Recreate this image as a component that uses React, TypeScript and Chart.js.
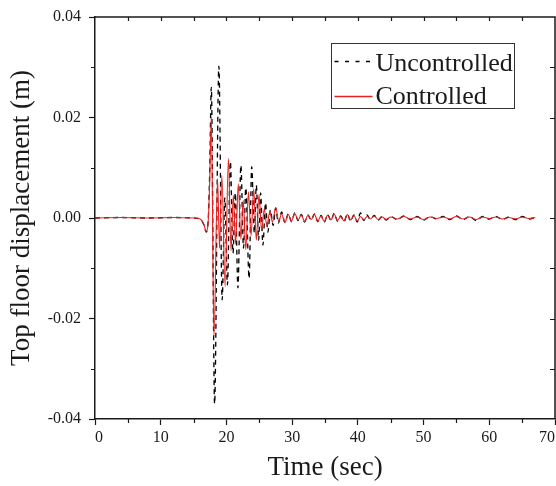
import React, { useEffect, useRef } from 'react';
import { Chart, registerables } from 'chart.js';

Chart.register(...registerables);

// ---------------- data ----------------
const seriesNames = ['Uncontrolled', 'Controlled'];

const uncontrolledTime = [
  0, 4, 8, 12, 15, 16, 16.6, 16.9, 17.2, 17.45, 17.7, 18.2, 18.85, 19.35, 19.75,
  20.15, 20.6, 21.0, 21.35, 21.75, 22.2, 22.6, 22.95, 23.45, 23.85, 24.25, 24.55,
  24.9, 25.2, 25.55, 25.95, 26.3, 26.7, 27.1, 27.5, 27.9, 28.4, 28.9, 29.4, 29.9,
  30.4, 30.9, 31.4, 31.9, 32.4, 32.9, 33.4, 33.9, 34.4, 34.9, 35.4, 35.9, 36.4,
  36.9, 37.4, 37.9, 38.4, 38.9, 39.4, 39.9, 40.4, 40.9, 41.4, 41.9, 42.5, 43.1,
  43.7, 44.3, 45, 46, 47, 48, 49, 50, 51, 52, 53, 54, 55, 56, 57, 58, 59, 60, 61,
  62, 63, 64, 65, 66, 67,
];
const uncontrolledDisp = [
  0, 0.0001, 0, 0.0001, 0, -0.0002, -0.0015, -0.0028, -0.001, 0.009, 0.026, -0.037,
  0.0302, -0.0163, 0.004, -0.0133, 0.0112, -0.007, 0.005, -0.0139, 0.0105, -0.006,
  0.006, -0.012, 0.0102, -0.003, 0.0065, -0.0044, 0.005, -0.0054, 0.003, -0.0028,
  0.0016, -0.0015, 0.002, -0.001, 0.0012, -0.0009, 0.0008, -0.0007, 0.001, -0.0005,
  0.0007, -0.0008, 0.0006, -0.0004, 0.0008, -0.0007, 0.0005, -0.0008, 0.0007,
  -0.0005, 0.0009, -0.0006, 0.0004, -0.0007, 0.0008, -0.0006, 0.0006, -0.0008,
  0.001, -0.0005, 0.0006, -0.0003, 0.0005, -0.0004, 0.0003, -0.0004, 0.0003,
  -0.0003, 0.0004, -0.0003, 0.0003, -0.0004, 0.0003, -0.0002, 0.0003, -0.0003,
  0.0004, -0.0003, 0.0003, -0.0005, 0.0003, -0.0002, 0.0003, -0.0003, 0.0002,
  -0.0003, 0.0003, -0.0002, 0.0001,
];

const controlledTime = [
  0, 4, 8, 12, 15, 16, 16.6, 16.9, 17.2, 17.45, 17.7, 18.1, 18.65, 18.95, 19.3,
  19.8, 20.3, 20.7, 21.05, 21.4, 21.8, 22.2, 22.55, 22.95, 23.35, 23.75, 24.15,
  24.55, 24.95, 25.35, 25.75, 26.15, 26.6, 27.0, 27.5, 27.95, 28.4, 28.9, 29.4,
  29.9, 30.4, 30.9, 31.4, 31.9, 32.4, 32.9, 33.4, 33.9, 34.4, 34.9, 35.4, 35.9,
  36.4, 36.9, 37.4, 37.9, 38.4, 38.9, 39.4, 39.9, 40.4, 40.9, 41.4, 41.9, 42.5,
  43.1, 43.7, 44.3, 45, 46, 47, 48, 49, 50, 51, 52, 53, 54, 55, 56, 57, 58, 59, 60,
  61, 62, 63, 64, 65, 66, 67,
];
const controlledDisp = [
  0, 0.0001, 0, 0.0001, 0, -0.0002, -0.0014, -0.0027, -0.0012, 0.007, 0.0202,
  -0.0236, 0.0078, -0.006, 0.0085, -0.0137, 0.0119, -0.0065, 0.0045, -0.0052,
  0.0068, -0.0042, 0.0035, -0.0063, 0.0052, -0.0035, 0.0058, -0.0044, 0.0046,
  -0.0025, 0.0018, -0.0015, 0.0012, -0.0008, 0.0021, -0.0006, 0.0008, -0.0009,
  0.0007, -0.0006, 0.0009, -0.0004, 0.0006, -0.0007, 0.0005, -0.0003, 0.0007,
  -0.0006, 0.0004, -0.0007, 0.0006, -0.0004, 0.0008, -0.0005, 0.0003, -0.0006,
  0.0007, -0.0004, 0.0005, -0.0006, 0.0003, -0.0004, 0.0003, -0.0002, 0.0004,
  -0.0003, 0.0002, -0.0003, 0.0002, -0.0002, 0.0003, -0.0002, 0.0002, -0.0003,
  0.0002, -0.0001, 0.0002, -0.0002, 0.0003, -0.0002, 0.0002, -0.0003, 0.0002,
  -0.0001, 0.0002, -0.0002, 0.0001, -0.0002, 0.0002, -0.0001, 0.0001,
];

const xMin = 0;
const xMax = 70;
const xStep = 10;
const yMin = -0.04;
const yMax = 0.04;
const yStep = 0.02;
const xTitle = 'Time (sec)';
const yTitle = 'Top floor displacement (m)';

const FONT = '"Liberation Serif", "Times New Roman", Times, serif';
const RED = 'rgb(232, 32, 32)';
const INK = '#1a1a1a';

const framePlugin = {
  id: 'frameAndLegend',
  afterDraw(chart: any) {
    const { ctx, chartArea, scales } = chart;
    const { left, right, top, bottom } = chartArea;
    const x = scales.x;
    const y = scales.y;
    ctx.save();
    // top and right frame
    ctx.strokeStyle = INK;
    ctx.lineWidth = 1.5;
    ctx.beginPath();
    ctx.moveTo(left, top);
    ctx.lineTo(right, top);
    ctx.lineTo(right, bottom);
    ctx.stroke();

    ctx.lineWidth = 1.2;
    ctx.beginPath();
    // minor outward ticks bottom
    for (let i = 1; i < 14; i += 2) {
      const px = Math.round(x.getPixelForValue(i * 5)) + 0.5;
      ctx.moveTo(px, bottom);
      ctx.lineTo(px, bottom + 4);
    }
    // minor outward ticks left
    for (let i = -3; i <= 3; i += 2) {
      const py = Math.round(y.getPixelForValue(i * 0.01)) + 0.5;
      ctx.moveTo(left, py);
      ctx.lineTo(left - 4, py);
    }
    // top inward ticks
    for (let i = 1; i < 14; i++) {
      const px = Math.round(x.getPixelForValue(i * 5)) + 0.5;
      ctx.moveTo(px, top);
      ctx.lineTo(px, top + 4);
    }
    // right inward ticks
    for (let i = -3; i <= 3; i++) {
      const py = Math.round(y.getPixelForValue(i * 0.01)) + 0.5;
      ctx.moveTo(right, py);
      ctx.lineTo(right - 5, py);
    }
    ctx.stroke();

    // legend
    const bx = Math.round(right - 224) + 0.5;
    const by = Math.round(top + 26) + 0.5;
    const bw = 183;
    const bh = 65;
    ctx.fillStyle = '#fff';
    ctx.fillRect(bx, by, bw, bh);
    ctx.strokeStyle = '#333';
    ctx.lineWidth = 1;
    ctx.strokeRect(bx, by, bw, bh);

    ctx.strokeStyle = '#000';
    ctx.lineWidth = 1.3;
    ctx.setLineDash([4, 6.5]);
    ctx.beginPath();
    ctx.moveTo(bx + 3, by + 18);
    ctx.lineTo(bx + 42, by + 18);
    ctx.stroke();
    ctx.setLineDash([]);
    ctx.strokeStyle = RED;
    ctx.lineWidth = 1.3;
    ctx.beginPath();
    ctx.moveTo(bx + 3, by + 53);
    ctx.lineTo(bx + 41, by + 53);
    ctx.stroke();

    ctx.fillStyle = INK;
    ctx.font = `26px ${FONT}`;
    ctx.textAlign = 'left';
    ctx.textBaseline = 'alphabetic';
    ctx.fillText(seriesNames[0], bx + 44, by + 27);
    ctx.fillText(seriesNames[1], bx + 44, by + 60);
    ctx.restore();
  },
};

function toPoints(t: number[], v: number[]) {
  return t.map((tt, i) => ({ x: tt, y: v[i] }));
}

export default function App() {
  const canvasRef = useRef<HTMLCanvasElement | null>(null);

  useEffect(() => {
    const canvas = canvasRef.current;
    if (!canvas) return;
    const chart = new Chart(canvas, {
      type: 'line',
      data: {
        datasets: [
          {
            label: seriesNames[0],
            data: toPoints(uncontrolledTime, uncontrolledDisp),
            borderColor: '#000',
            borderWidth: 1.3,
            borderDash: [5, 4],
            pointRadius: 0,
            cubicInterpolationMode: 'monotone',
            fill: false,
            order: 1,
          },
          {
            label: seriesNames[1],
            data: toPoints(controlledTime, controlledDisp),
            borderColor: RED,
            borderWidth: 1.1,
            pointRadius: 0,
            cubicInterpolationMode: 'monotone',
            fill: false,
            order: 0,
          },
        ],
      },
      options: {
        animation: false,
        responsive: false,
        maintainAspectRatio: false,
        layout: { padding: { top: 17, right: 1, bottom: 0, left: 0 } },
        plugins: {
          legend: { display: false },
          tooltip: { enabled: false },
        },
        font: { family: FONT },
        scales: {
          x: {
            type: 'linear',
            min: xMin,
            max: xMax,
            afterFit(scale: any) {
              scale.height = 67;
              scale.paddingLeft = 0;
              scale.paddingRight = 0;
            },
            ticks: {
              stepSize: xStep,
              autoSkip: false,
              maxRotation: 0,
              align: 'inner',
              padding: 3,
              color: INK,
              font: { family: FONT, size: 16 },
            },
            grid: {
              drawOnChartArea: false,
              drawTicks: true,
              tickLength: 6,
              tickWidth: 1.2,
              tickColor: INK,
            },
            border: { display: true, color: INK, width: 1.5 },
            title: {
              display: true,
              text: xTitle,
              color: INK,
              font: { family: FONT, size: 27, lineHeight: 1.2 },
              padding: { top: 0, bottom: 2 },
            },
          },
          y: {
            type: 'linear',
            min: yMin,
            max: yMax,
            afterFit(scale: any) {
              scale.width = 95;
              scale.paddingTop = 0;
              scale.paddingBottom = 0;
            },
            ticks: {
              stepSize: yStep,
              padding: 8,
              color: INK,
              font: { family: FONT, size: 16 },
              callback: (v: any) => Number(v).toFixed(2),
            },
            grid: {
              drawOnChartArea: false,
              drawTicks: true,
              tickLength: 6,
              tickWidth: 1.2,
              tickColor: INK,
            },
            border: { display: true, color: INK, width: 1.5 },
            title: {
              display: true,
              text: yTitle,
              color: INK,
              font: { family: FONT, size: 27, lineHeight: 1.2 },
              padding: { top: 6, bottom: 0 },
            },
          },
        },
      },
      plugins: [framePlugin],
    });
    return () => chart.destroy();
  }, []);

  return (
    <div style={{ position: 'fixed', left: 0, top: 0, width: 556, height: 486, background: '#fff' }}>
      <canvas ref={canvasRef} width={556} height={486} style={{ display: 'block' }} />
    </div>
  );
}
